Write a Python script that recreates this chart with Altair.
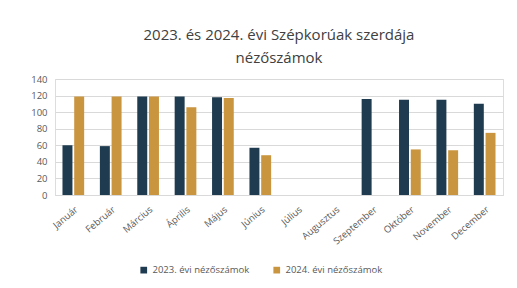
import altair as alt
import pandas as pd

months = ["Január", "Február", "Március", "Április", "Május", "Június",
          "Július", "Augusztus", "Szeptember", "Október", "November", "December"]
v2023 = [60, 59, 119, 119, 118, 57, None, None, 116, 115, 115, 110]
v2024 = [119, 119, 119, 106, 117, 48, None, None, None, 55, 54, 75]
series = ["2023. évi nézőszámok", "2024. évi nézőszámok"]
colors = ["#1f3b4f", "#c9953f"]

rows = []
for m, a, b in zip(months, v2023, v2024):
    rows.append({"honap": m, "sorozat": series[0], "ertek": a})
    rows.append({"honap": m, "sorozat": series[1], "ertek": b})
df = pd.DataFrame(rows)

chart = alt.Chart(df).mark_bar().encode(
    x=alt.X("honap:N", sort=months, title=None,
            scale=alt.Scale(paddingInner=0.42, paddingOuter=0.2),
            axis=alt.Axis(labelAngle=-40, labelFontSize=9.5, labelColor="#595959",
                          ticks=False, domainColor="#d9d9d9", labelPadding=9)),
    xOffset=alt.XOffset("sorozat:N", sort=series, scale=alt.Scale(paddingInner=0.15)),
    y=alt.Y("ertek:Q", title=None,
            scale=alt.Scale(domain=[0, 140]),
            axis=alt.Axis(values=[0, 20, 40, 60, 80, 100, 120, 140], labelFontSize=9.5,
                          labelColor="#595959", domain=False, ticks=False,
                          gridColor="#d9d9d9", labelPadding=8)),
    color=alt.Color("sorozat:N", sort=series,
                    scale=alt.Scale(domain=series, range=colors),
                    legend=alt.Legend(orient="none", legendX=84, legendY=186,
                                      direction="horizontal", title=None,
                                      symbolType="square", symbolSize=45, labelFontSize=9.5,
                                      labelColor="#595959", columnPadding=22)),
).properties(
    width=448, height=116,
    padding={"top": 20, "left": 22, "right": 4, "bottom": 0},
    title=alt.Title(["2023. és 2024. évi Szépkorúak szerdája", "nézőszámok"],
                    fontSize=15, fontWeight="normal", color="#404040",
                    anchor="middle", font="Open Sans", lineHeight=23, offset=8),
).configure_view(stroke=None).configure(font="Open Sans")

chart.save("out.html", embed_options={"renderer": "svg", "actions": False})
